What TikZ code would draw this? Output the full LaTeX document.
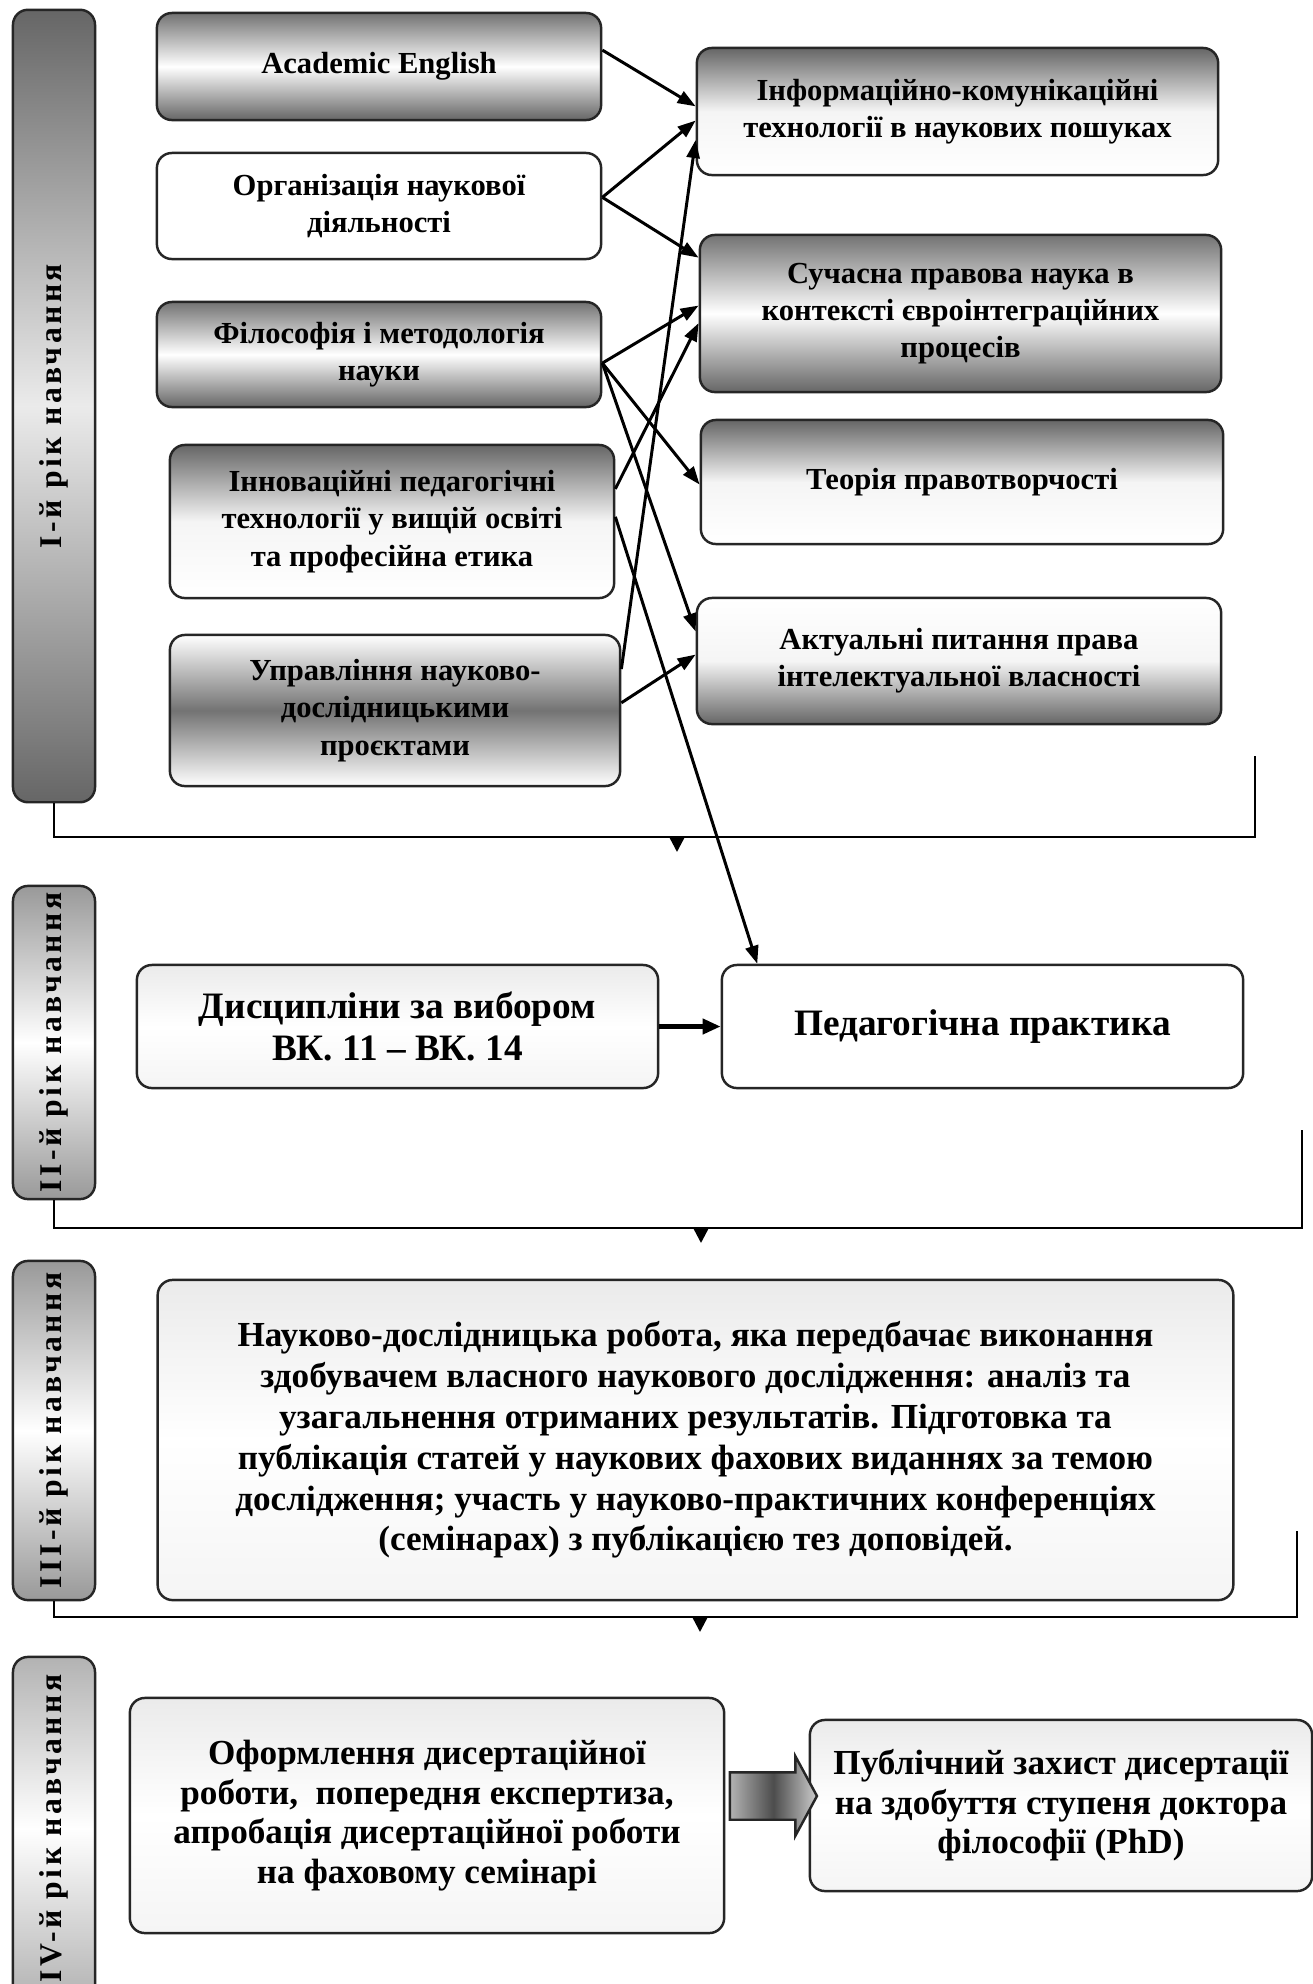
\documentclass[tikz,border=0pt]{standalone}
\usepackage{graphicx}
\usepackage{fontspec}
\setmainfont{Liberation Serif}
\newfontfamily\spacedfont[LetterSpace=11]{Liberation Serif}
\usetikzlibrary{shapes,arrows.meta,positioning,calc}

\begin{document}
\begin{tikzpicture}[
    x=0.01cm, y=-0.01cm,
    box/.style={rectangle, draw=black!85, line width=0.7pt, rounded corners=0.15cm, align=center, inner sep=2pt, font=\bfseries\fontsize{8.7}{10.6}\selectfont},
    bigbox/.style={box, font=\bfseries\fontsize{10.6}{11.8}\selectfont},
    yearbar/.style={rectangle, draw=black!85, line width=0.7pt, rounded corners=0.15cm, minimum width=0.82cm, inner sep=0pt, font=\spacedfont\bfseries\fontsize{9}{10}\selectfont},
    darkends/.style={top color=black!55, bottom color=black!60, middle color=white},
    darktop/.style={top color=black!60, bottom color=white, middle color=black!4},
    darkbottom/.style={top color=white, bottom color=black!60, middle color=black!4},
    darkmid/.style={top color=white, bottom color=white, middle color=black!55},
    pale/.style={top color=black!8, bottom color=black!4, middle color=white},
    arrow/.style={line width=0.85pt, -{Triangle[length=0.18cm,width=0.13cm]}},
    bracket/.style={line width=0.7pt},
    droptip/.style={line width=0.7pt, -{Triangle[length=0.15cm,width=0.15cm]}}
]
    \useasboundingbox (0,0) rectangle (1313,1984);

    % year bars
    \node[yearbar, top color=black!60, bottom color=black!60, middle color=black!8, minimum height=7.92cm] (barI) at (54,406) {\rotatebox{90}{І-й рік навчання}};
    \node[yearbar, top color=black!40, bottom color=black!40, middle color=white, minimum height=3.13cm] (barII) at (54,1042.5) {\rotatebox{90}{ІІ-й рік навчання}};
    \node[yearbar, top color=black!40, bottom color=black!40, middle color=white, minimum height=3.39cm] (barIII) at (54,1430.5) {\rotatebox{90}{ІІІ-й рік навчання}};
    \node[yearbar, top color=black!30, bottom color=black!30, middle color=white, minimum height=3.43cm] (barIV) at (54,1828.5) {\rotatebox{90}{ІV-й рік навчання}};

    % first year, left column
    \node[box, darkends, minimum width=4.44cm, minimum height=1.07cm] (ae) at (379,66.5) {Academic English};
    \node[box, fill=white, minimum width=4.44cm, minimum height=1.06cm] (org) at (379,206) {Організація наукової\\діяльності};
    \node[box, darkends, minimum width=4.44cm, minimum height=1.05cm] (fil) at (379,354.5) {Філософія і методологія\\науки};
    \node[box, darktop, minimum width=4.44cm, minimum height=1.53cm] (inn) at (392,521.5) {Інноваційні педагогічні\\технології у вищій освіті\\та професійна етика};
    \node[box, darkmid, minimum width=4.5cm, minimum height=1.51cm] (upr) at (395,710.5) {Управління науково-\\дослідницькими\\проєктами};

    % first year, right column
    \node[box, darktop, minimum width=5.21cm, minimum height=1.27cm] (ikt) at (957.5,111.5) {Інформаційно-комунікаційні\\технології в наукових пошуках};
    \node[box, darkends, minimum width=5.21cm, minimum height=1.57cm] (suc) at (960.5,313.5) {Сучасна правова наука в\\контексті євроінтеграційних\\процесів};
    \node[box, darktop, minimum width=5.22cm, minimum height=1.24cm] (teo) at (962,482) {Теорія правотворчості};
    \node[box, darkbottom, minimum width=5.24cm, minimum height=1.26cm] (akt) at (959,661) {Актуальні питання права\\інтелектуальної власності};

    % second year
    \node[bigbox, pale, minimum width=5.21cm, minimum height=1.23cm] (dys) at (397.5,1026.5) {Дисципліни за вибором\\ВК. 11 – ВК. 14};
    \node[bigbox, fill=white, minimum width=5.21cm, minimum height=1.23cm] (ped) at (982.5,1026.5) {Педагогічна практика};

    % third year
    \node[bigbox, pale, font=\bfseries\fontsize{10}{11.6}\selectfont, minimum width=10.75cm, minimum height=3.2cm] (ndr) at (695.5,1440) {Науково-дослідницька робота, яка передбачає виконання\\здобувачем власного наукового дослідження: аналіз та\\узагальнення отриманих результатів. Підготовка та\\публікація статей у наукових фахових виданнях за темою\\дослідження; участь у науково-практичних конференціях\\(семінарах) з публікацією тез доповідей.};

    % fourth year
    \node[bigbox, pale, font=\bfseries\fontsize{10}{11.2}\selectfont, minimum width=5.94cm, minimum height=2.35cm] (ofo) at (427,1815.5) {Оформлення дисертаційної\\роботи,~ попередня експертиза,\\апробація дисертаційної роботи\\на фаховому семінарі};
    \node[bigbox, pale, font=\bfseries\fontsize{10}{11.2}\selectfont, minimum width=5.02cm, minimum height=1.71cm] (pub) at (1061,1805.5) {Публічний захист дисертації\\на здобуття ступеня доктора\\філософії (PhD)};
    \node[single arrow, draw=black!85, line width=0.7pt, left color=black!30, right color=black!20, middle color=black!70, inner xsep=0pt, inner ysep=0.225cm, minimum height=0.87cm, single arrow head extend=0.16cm, single arrow tip angle=123] (big) at (767,1796) {};

    % links of the first year
    \draw[arrow] ($(ae.north east)!0.35!(ae.south east)$) -- ($(ikt.north west)!0.46!(ikt.south west)$);
    \draw[arrow] ($(org.north east)!0.42!(org.south east)$) -- ($(ikt.north west)!0.57!(ikt.south west)$);
    \draw[arrow] ($(org.north east)!0.42!(org.south east)$) -- ($(suc.north west)!0.15!(suc.south west)$);
    \draw[arrow] ($(fil.north east)!0.58!(fil.south east)$) -- ($(suc.north west)!0.45!(suc.south west)$);
    \draw[arrow] ($(fil.north east)!0.58!(fil.south east)$) -- ($(teo.north west)!0.52!(teo.south west)$);
    \draw[arrow] ($(fil.north east)!0.58!(fil.south east)$) -- ($(akt.north west)!0.27!(akt.south west)$);
    \draw[arrow] ($(inn.north east)!0.29!(inn.south east)$) -- ($(suc.north west)!0.56!(suc.south west)$);
    \draw[arrow] ($(inn.north east)!0.47!(inn.south east)$) -- ($(ped.north west)!0.07!(ped.north east)$);
    \draw[arrow] ($(upr.north east)!0.23!(upr.south east)$) -- ($(ikt.north west)!0.72!(ikt.south west)$);
    \draw[arrow] ($(upr.north east)!0.45!(upr.south east)$) -- ($(akt.north west)!0.45!(akt.south west)$);

    \draw[line width=1.2pt, -{Triangle[length=0.18cm,width=0.15cm]}] (dys) -- (ped);

    % brackets between the years
    \coordinate (kI) at (677,837);
    \coordinate (tI) at (677,852);
    \coordinate (eI) at (1255,756);
    \draw[bracket] (barI.south) |- (kI) -| (eI);
    \draw[droptip] (kI) -- (tI);

    \coordinate (kII) at (701,1228);
    \coordinate (tII) at (701,1243);
    \coordinate (eII) at (1302,1130);
    \draw[bracket] (barII.south) |- (kII) -| (eII);
    \draw[droptip] (kII) -- (tII);

    \coordinate (kIII) at (700,1617);
    \coordinate (tIII) at (700,1632);
    \coordinate (eIII) at (1297,1531);
    \draw[bracket] (barIII.south) |- (kIII) -| (eIII);
    \draw[droptip] (kIII) -- (tIII);

\end{tikzpicture}
\end{document}
